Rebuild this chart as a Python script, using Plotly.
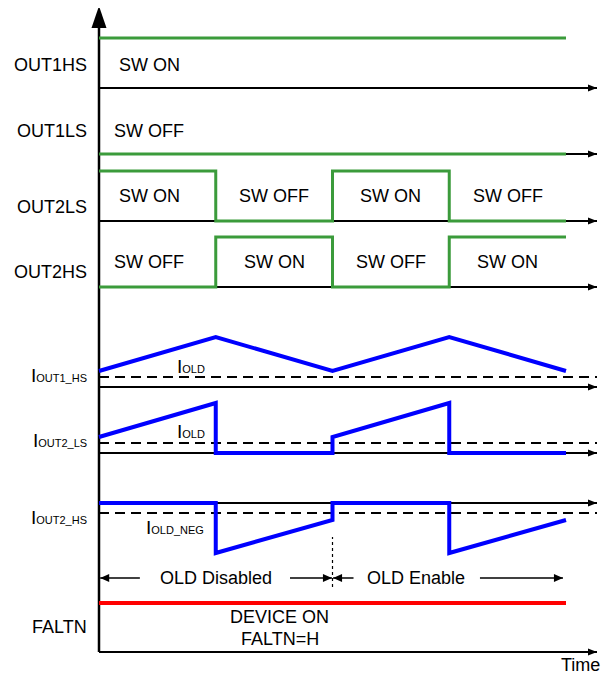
import plotly.graph_objects as go

# switching periods along the time axis
t_edges = [0, 1, 2, 3, 4]

# digital switch states per period (1 = SW ON)
out1hs_state = [1, 1, 1, 1]
out1ls_state = [0, 0, 0, 0]
out2ls_state = [1, 0, 1, 0]
out2hs_state = [0, 1, 0, 1]
faltn_state = [1, 1, 1, 1]

# currents (arbitrary units, I_OLD thresholds)
i_out1_hs_t = [0, 1, 2, 3, 4]
i_out1_hs = [1.6, 5.0, 1.6, 5.0, 1.6]
i_out2_ls_t = [0, 1, 1, 2, 2, 3, 3, 4]
i_out2_ls = [1.6, 5.0, 0, 0, 1.6, 5.0, 0, 0]
i_out2_hs_t = [0, 1, 1, 2, 2, 3, 3, 4]
i_out2_hs = [0, 0, -5.0, -1.7, 0, 0, -5.0, -1.7]
i_old = 1.0
i_old_neg = -1.0
old_enable_t = 2

# ---- layout / geometry (not data) ----
PAGE_W, PAGE_H = 609, 677
BODY = 8                      # browser default body margin
W, H = PAGE_W - BODY, PAGE_H - BODY
PX_T = 116.75      # px per period
ORIGIN_PX = 99     # page px of t=0
PX_Y = 10.0        # px per y unit
T_TIP = (597 - ORIGIN_PX) / PX_T
X_LABEL = (89 - ORIGIN_PX) / PX_T
HIGH = 5.0         # logic high amplitude

base = {
    'OUT1HS': 58.9, 'OUT1LS': 52.3, 'OUT2LS': 45.6, 'OUT2HS': 39.0,
    'IOUT1HS': 29.0, 'IOUT2LS': 22.4, 'IOUT2HS': 17.4, 'TIME': 2.5,
}

GREEN = '#3b9b3b'
BLUE = '#0000ff'
RED = '#ff0000'
FONT = dict(family='Arial, Liberation Sans, sans-serif', size=18, color='black')

fig = go.Figure()
shapes = []
annos = []


def line(x, y, color='black', width=2, dash=None, shape='linear'):
    fig.add_trace(go.Scatter(x=x, y=y, mode='lines', hoverinfo='skip',
                             line=dict(color=color, width=width, dash=dash, shape=shape)))


def head(xt, yt, direction, length=9, width=7):
    '''filled triangle arrowhead, size in px'''
    lx, ly = length / PX_T, length / PX_Y
    wx, wy = width / 2 / PX_T, width / 2 / PX_Y
    if direction == 'right':
        pts = [(xt, yt), (xt - lx, yt + wy), (xt - lx, yt - wy)]
    elif direction == 'left':
        pts = [(xt, yt), (xt + lx, yt + wy), (xt + lx, yt - wy)]
    else:
        pts = [(xt, yt), (xt - wx, yt - ly), (xt + wx, yt - ly)]
    path = 'M ' + ' L '.join(f'{a},{b}' for a, b in pts) + ' Z'
    shapes.append(dict(type='path', path=path, fillcolor='black', line=dict(width=0)))


def text(x, y, s, anchor='center', size=18, yanchor='middle'):
    annos.append(dict(x=x, y=y, text=s, showarrow=False, xanchor=anchor, yanchor=yanchor,
                      font=dict(FONT, size=size)))


def sub(main, s):
    return f"{main}<span style='font-size:11px'>{s}</span>"


# vertical axis
y_top = (PAGE_H - 6) / PX_Y
line([0, 0], [base['TIME'], y_top - 2.2], width=2.5)
head(0, y_top, 'up', length=22, width=15)

# horizontal axes with arrows
for k in base:
    line([0, T_TIP], [base[k], base[k]], width=2)
    head(T_TIP, base[k], 'right')

# threshold dashed lines
for k, th in [('IOUT1HS', i_old), ('IOUT2LS', i_old), ('IOUT2HS', i_old_neg)]:
    line([0, T_TIP], [base[k] + th, base[k] + th], width=2, dash='10px,6px')

# digital switch signals
sw_text_t = [0.43, 1.5, 2.5, 3.5]
digital = [('OUT1HS', out1hs_state, 0), ('OUT1LS', out1ls_state, 0),
           ('OUT2LS', out2ls_state, 0.9), ('OUT2HS', out2hs_state, 0.8)]
for k, st, lab_dy in digital:
    line(t_edges, [base[k] + HIGH * s for s in st + st[-1:]], color=GREEN, width=3, shape='hv')
    text(X_LABEL, base[k] + 2.3 - lab_dy, k, anchor='right')
    if k.startswith('OUT1'):
        text(sw_text_t[0], base[k] + 2.3, 'SW ON' if st[0] else 'SW OFF')
    else:
        for tx, s in zip(sw_text_t, st):
            text(tx, base[k] + 2.5, 'SW ON' if s else 'SW OFF')

# currents
line(i_out1_hs_t, [base['IOUT1HS'] + v for v in i_out1_hs], color=BLUE, width=4)
line(i_out2_ls_t, [base['IOUT2LS'] + v for v in i_out2_ls], color=BLUE, width=4)
line(i_out2_hs_t, [base['IOUT2HS'] + v for v in i_out2_hs], color=BLUE, width=4)

text(X_LABEL, base['IOUT1HS'] + 1.2, sub('I', 'OUT1_HS'), anchor='right', size=19)
text(X_LABEL, base['IOUT2LS'] + 1.3, sub('I', 'OUT2_LS'), anchor='right', size=19)
text(X_LABEL, base['IOUT2HS'] - 1.4, sub('I', 'OUT2_HS'), anchor='right', size=19)
text(0.79, base['IOUT1HS'] + 2.1, sub('I', 'OLD'), size=19)
text(0.79, base['IOUT2LS'] + 2.15, sub('I', 'OLD'), size=19)
text(0.65, base['IOUT2HS'] - 2.4, sub('I', 'OLD_NEG'), size=19)

# OLD disabled / enable
y_old = 9.9
line([old_enable_t, old_enable_t], [9.0, 14.0], width=1.2, dash='dot')
for x0, x1, d in [(0.35, 0.01, 'left'), (1.636, old_enable_t - 0.005, 'right'),
                  (2.18, old_enable_t + 0.005, 'left'), (3.263, 3.974, 'right')]:
    line([x0, x1], [y_old, y_old], width=1.5)
    head(x1, y_old, d, length=9, width=8)
text(1.0, y_old, 'OLD Disabled')
text(2.715, y_old, 'OLD Enable')

# FALTN
line(t_edges, [base['TIME'] + 4.9 * s for s in faltn_state + faltn_state[-1:]],
     color=RED, width=4, shape='hv')
text(X_LABEL, 5.0, 'FALTN', anchor='right')
text(1.55, 6.0, 'DEVICE ON')
text(1.55, 3.8, 'FALTN=H')
text(4.12, 0.0, 'Time', yanchor='bottom')

fig.update_layout(
    width=W, height=H, margin=dict(l=0, r=0, t=0, b=0),
    paper_bgcolor='white', plot_bgcolor='white', showlegend=False,
    xaxis=dict(visible=False, range=[(BODY - ORIGIN_PX) / PX_T, (PAGE_W - ORIGIN_PX) / PX_T],
               fixedrange=True),
    yaxis=dict(visible=False, range=[0, H / PX_Y], fixedrange=True),
    shapes=shapes, annotations=annos, font=FONT,
)

fig.write_html("out.html")
